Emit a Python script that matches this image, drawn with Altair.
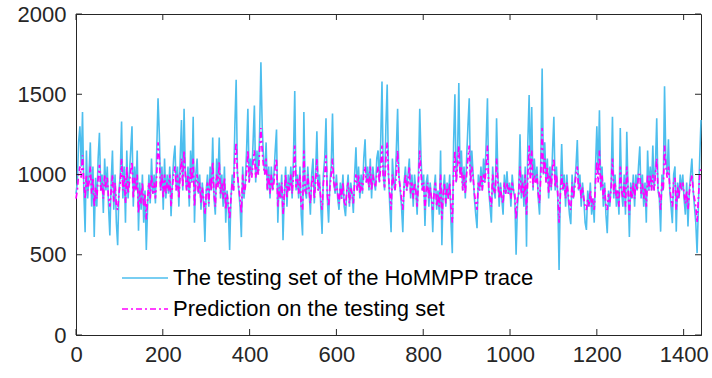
import altair as alt
import pandas as pd

# ---- data, one value every 3 samples ----
step = 3
actual = [
    880,950,1200,1300,1050,1390,900,640,1150,850, 1000,1200,800,1050,610,980,800,1100,1260,900,
    1000,760,1100,900,1050,800,620,950,1150,780, 1000,700,560,900,1000,1330,850,1050,700,1150,
    850,1000,1150,1300,800,1050,900,1150,650,950, 780,1000,700,900,530,800,1000,820,1100,880,
    1000,820,1150,1475,1250,900,1050,780,1100,850, 1000,880,1050,740,950,1100,1180,900,1050,800,
    1100,1340,900,1410,1000,900,1050,800,1150,950, 1360,700,1000,1100,880,1000,780,950,820,580,
    900,1000,800,1050,900,1230,850,750,1100,950, 1230,850,1000,800,1050,700,900,780,530,850,
    1000,900,1300,1590,1000,900,800,610,1050,850, 950,1150,1410,950,1100,1000,1200,1430,950,1150,
    1000,1250,1700,1300,1100,1000,1200,900,1050,850, 1050,900,1000,1150,1280,700,950,850,1000,590,
    880,1050,800,1000,900,1050,850,1100,1520,900, 1000,850,1050,750,620,1390,900,850,1050,900,
    750,1000,1100,820,1000,1270,900,1000,800,630, 1000,1100,1350,850,700,950,1050,1380,950,880,
    1000,850,780,950,850,1000,800,740,900,1000, 800,950,880,760,1000,1170,900,1050,850,1000,
    880,1100,1220,950,1050,900,1100,850,1050,950, 900,1100,1150,950,1200,1580,1000,900,1300,1560,
    1000,800,640,1100,950,900,1150,1410,1000,900, 800,640,950,1050,900,1000,1100,850,1000,800,
    1000,900,750,1000,1410,1100,900,1000,680,950, 1000,800,950,850,640,900,1000,780,900,750,
    1150,560,900,1000,800,950,850,1000,700,510, 1200,1500,950,1100,1570,1000,1150,900,1050,850,
    1100,1300,1475,950,1150,1000,850,750,665,1000, 900,1050,900,1100,950,1200,1475,900,800,700,
    1050,900,850,1350,1000,800,950,850,750,1000, 880,1020,880,950,800,1000,900,850,500,800,
    900,1250,850,1000,800,1050,550,1200,1495,1000, 1420,900,1100,950,1050,850,750,1100,1660,1000,
    1200,950,1100,850,1050,900,1150,1360,900,1050, 850,405,900,1190,900,1000,800,1000,850,750,
    690,1000,850,950,1050,1215,900,1000,800,950, 850,700,655,900,800,950,750,850,700,1050,
    1300,1000,1400,900,1050,800,950,750,634,900, 800,950,1360,850,1000,800,900,750,1290,900,
    800,1000,750,1266,900,610,950,850,1000,800, 1000,900,1050,1175,850,1000,800,950,700,1150,
    900,1050,900,1180,900,1050,1350,900,850,644, 1000,900,1550,1100,1000,1220,900,800,697,1000,
    1050,644,950,850,1000,900,1000,850,750,950, 676,900,1000,1100,900,800,700,510,800,1100,
    1340,
]
predicted = [
    850,900,1000,1050,980,1120,950,850,1000,900, 950,1050,880,980,800,920,850,980,1060,900,
    950,850,1000,920,980,850,800,900,1000,830, 950,800,780,880,950,1100,900,1000,820,1050,
    880,950,1020,1080,850,980,900,1000,760,900, 820,950,800,880,720,850,950,850,1000,880,
    950,850,1000,1200,1100,900,1000,850,1000,880, 950,900,1000,800,920,1000,1050,900,1000,850,
    1000,1100,920,1150,1000,900,1000,850,1050,950, 1100,800,950,1000,880,950,820,920,850,750,
    880,950,820,980,900,1080,880,800,1000,920, 1080,880,950,850,980,780,880,820,720,850,
    950,900,1100,1200,1000,920,850,760,1000,880, 920,1020,1150,950,1050,980,1080,1150,980,1050,
    1000,1150,1290,1150,1050,1000,1100,900,1000,880, 1000,900,950,1050,1100,800,920,850,950,750,
    880,1000,850,950,900,1000,880,1000,1180,920, 980,880,1000,800,780,1150,900,880,1000,900,
    820,950,1000,850,950,1100,900,950,850,780, 950,1000,1120,880,800,920,1000,1100,950,900,
    950,880,820,920,850,950,830,800,900,950, 820,920,880,820,950,1000,900,1000,880,950,
    900,1000,1050,950,1000,920,1050,900,1000,950, 920,1000,1050,950,1050,1180,980,920,1100,1200,
    1000,880,780,1000,950,900,1000,1150,980,920, 850,780,920,1000,900,950,1050,880,950,850,
    950,900,800,950,1150,1000,900,950,780,900, 950,850,920,850,780,880,950,800,880,800,
    1000,720,880,950,820,920,850,950,800,700, 1000,1150,950,1050,1180,980,1050,900,1000,880,
    1000,1100,1180,950,1050,980,880,820,780,950, 900,1000,900,1000,950,1050,1180,920,850,800,
    1000,900,880,1100,950,850,920,850,820,950, 880,950,880,920,850,950,900,880,720,850,
    880,1050,880,950,850,1000,750,1000,1180,950, 1150,920,1000,950,1000,880,820,1000,1290,1000,
    1100,950,1050,880,1000,920,1050,1100,920,1000, 880,700,880,1000,900,950,850,950,880,800,
    780,950,850,920,1000,1050,900,950,850,920, 850,800,780,850,800,900,800,850,780,950,
    1080,950,1150,920,1000,850,920,800,780,880, 820,920,1100,880,950,850,900,800,1050,900,
    850,950,800,1050,900,750,920,850,950,850, 950,900,1000,1000,880,950,850,920,800,1000,
    900,1000,900,1000,900,1000,1100,900,880,780, 950,900,1180,1050,980,1050,920,850,800,950,
    980,780,920,850,950,900,950,880,820,900, 780,880,950,1000,900,850,800,700,850,1000,
    1050,
]
x_ticks = [0, 200, 400, 600, 800, 1000, 1200, 1400]
y_ticks = [0, 500, 1000, 1500, 2000]
labels = ["The testing set of the HoMMPP trace", "Prediction on the testing set"]

BLUE = "#4DBEEE"
MAG = "#FF00FF"
AX = "#262626"
FONT = "Liberation Sans"
W, H = 625, 321

df_a = pd.DataFrame({"t": [i * step for i in range(len(actual))], "v": actual})
df_p = pd.DataFrame({"t": [i * step for i in range(len(predicted))], "v": predicted})

xs = alt.Scale(domain=[0, 1440], nice=False, zero=False)
ys = alt.Scale(domain=[0, 2000], nice=False)

xaxis = alt.Axis(values=x_ticks, format="d", ticks=False, grid=False, labelFontSize=22,
                 labelFont=FONT, labelColor=AX, labelPadding=9, domainColor=AX,
                 labelFlush=False, title=None)
yaxis = alt.Axis(values=y_ticks, format="d", ticks=False, grid=False, labelFontSize=22,
                 labelFont=FONT, labelColor=AX, labelPadding=10, domainColor=AX, title=None)

line_a = alt.Chart(df_a).mark_line(color=BLUE, strokeWidth=1.6).encode(
    x=alt.X("t:Q", scale=xs, axis=xaxis),
    y=alt.Y("v:Q", scale=ys, axis=yaxis),
)
line_p = alt.Chart(df_p).mark_line(color=MAG, strokeWidth=1.7, strokeDash=[6, 3, 2, 3]).encode(
    x=alt.X("t:Q", scale=xs),
    y=alt.Y("v:Q", scale=ys),
)

dfx = pd.DataFrame({"t": x_ticks})
dfy = pd.DataFrame({"v": y_ticks})
tick_b = alt.Chart(dfx).mark_rule(color=AX, strokeWidth=1).encode(
    x=alt.X("t:Q", scale=xs), y=alt.value(H), y2=alt.value(H - 6))
tick_t = alt.Chart(dfx).mark_rule(color=AX, strokeWidth=1).encode(
    x=alt.X("t:Q", scale=xs), y=alt.value(0), y2=alt.value(6))
tick_l = alt.Chart(dfy).mark_rule(color=AX, strokeWidth=1).encode(
    y=alt.Y("v:Q", scale=ys), x=alt.value(0), x2=alt.value(6))
tick_r = alt.Chart(dfy).mark_rule(color=AX, strokeWidth=1).encode(
    y=alt.Y("v:Q", scale=ys), x=alt.value(W), x2=alt.value(W - 6))

one = pd.DataFrame({"k": [0]})
leg1_line = alt.Chart(one).mark_rule(color=BLUE, strokeWidth=1.4).encode(
    x=alt.value(46), x2=alt.value(92), y=alt.value(264))
leg2_line = alt.Chart(one).mark_rule(color=MAG, strokeWidth=1.4, strokeDash=[6, 3, 2, 3]).encode(
    x=alt.value(46), x2=alt.value(92), y=alt.value(295))
leg1_txt = alt.Chart(one).mark_text(align="left", baseline="middle", font=FONT, fontSize=22,
                                     color="#000000", text=labels[0]).encode(
    x=alt.value(97), y=alt.value(264))
leg2_txt = alt.Chart(one).mark_text(align="left", baseline="middle", font=FONT, fontSize=22,
                                     color="#000000", text=labels[1]).encode(
    x=alt.value(97), y=alt.value(295))

chart = alt.layer(
    line_a, line_p, tick_b, tick_t, tick_l, tick_r,
    leg1_line, leg2_line, leg1_txt, leg2_txt,
).properties(
    width=W, height=H,
    autosize=alt.AutoSizeParams(type="none"),
    padding={"left": 76, "top": 14, "right": 11, "bottom": 43},
    background="white",
).configure_view(stroke=AX, strokeWidth=1)

chart.save("out.html", embed_options={"renderer": "svg", "actions": False})
